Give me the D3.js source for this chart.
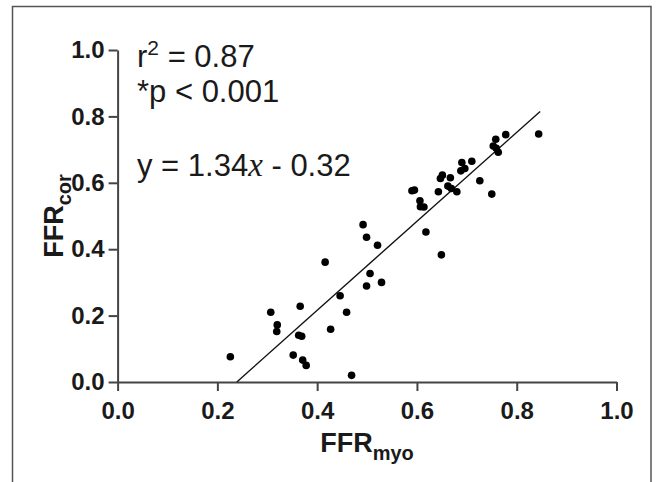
<!DOCTYPE html>
<html>
<head>
<meta charset="utf-8">
<script src="https://cdn.jsdelivr.net/npm/d3@7"></script>
<style>
  html, body { margin: 0; padding: 0; background: #fff; }
  svg { display: block; }
</style>
</head>
<body>
<svg id="chart" width="658" height="482"></svg>
<script>
// ---- Data ----
const ffrMyo = [0.492, 0.499, 0.521, 0.416, 0.506, 0.529, 0.499, 0.446, 0.307, 0.366,
                0.459, 0.320, 0.319, 0.363, 0.369, 0.427, 0.226, 0.352, 0.371, 0.378,
                0.469,
                0.844, 0.778, 0.758, 0.753, 0.759, 0.763, 0.710, 0.690, 0.696, 0.688,
                0.726, 0.750, 0.651, 0.647, 0.667, 0.662, 0.669, 0.680, 0.643, 0.590,
                0.595, 0.606, 0.607, 0.614, 0.618, 0.649];
const ffrCor = [0.474, 0.436, 0.412, 0.361, 0.327, 0.300, 0.289, 0.260, 0.210, 0.228,
                0.210, 0.172, 0.152, 0.141, 0.138, 0.159, 0.076, 0.081, 0.066, 0.050,
                0.020,
                0.747, 0.745, 0.731, 0.711, 0.704, 0.692, 0.665, 0.661, 0.643, 0.636,
                0.606, 0.566, 0.623, 0.613, 0.615, 0.590, 0.583, 0.573, 0.573, 0.576,
                0.578, 0.546, 0.528, 0.527, 0.452, 0.383];
const slope = 1.34;
const intercept = -0.32;
const fitRange = [0.239, 0.847];
const tickValues = [0, 0.2, 0.4, 0.6, 0.8, 1.0];
const tickLabels = ["0.0", "0.2", "0.4", "0.6", "0.8", "1.0"];

const svg = d3.select("#chart");

// outer frame (open at bottom)
svg.append("path")
  .attr("d", "M12.5,482 V6.5 H651 V482")
  .attr("fill", "none")
  .attr("stroke", "#555")
  .attr("stroke-width", 1.5);

const x = d3.scaleLinear().domain([0, 1]).range([117.6, 616.5]);
const y = d3.scaleLinear().domain([0, 1]).range([382, 50]);

const fmt = (d) => tickLabels[tickValues.indexOf(d)];

const xAxis = svg.append("g")
  .attr("transform", "translate(0,382)")
  .call(d3.axisBottom(x).tickValues(tickValues).tickFormat(fmt).tickSize(9).tickSizeOuter(0).tickPadding(11));
const yAxis = svg.append("g")
  .attr("transform", "translate(117.6,0)")
  .call(d3.axisLeft(y).tickValues(tickValues).tickFormat(fmt).tickSize(9).tickSizeOuter(0).tickPadding(4));

[xAxis, yAxis].forEach(g => {
  g.select(".domain").attr("stroke", "#444").attr("stroke-width", 2);
  g.selectAll(".tick line").attr("stroke", "#444").attr("stroke-width", 2);
  g.selectAll(".tick text")
    .attr("fill", "#1a1a1a")
    .style("font-family", "Liberation Sans, Arial, sans-serif")
    .style("font-weight", "bold")
    .style("font-size", "24px");
});

// regression line
svg.append("line")
  .attr("x1", x(fitRange[0])).attr("y1", y(slope * fitRange[0] + intercept))
  .attr("x2", x(fitRange[1])).attr("y2", y(slope * fitRange[1] + intercept))
  .attr("stroke", "#111").attr("stroke-width", 1.4);

// points
svg.append("g").selectAll("circle")
  .data(ffrMyo.map((v, i) => [v, ffrCor[i]]))
  .join("circle")
  .attr("cx", d => x(d[0]))
  .attr("cy", d => y(d[1]))
  .attr("r", 3.8)
  .attr("fill", "#000");

// annotations
const ann = svg.append("g")
  .style("font-family", "Liberation Sans, Arial, sans-serif")
  .style("font-size", "31px")
  .attr("fill", "#1a1a1a");

const t1 = ann.append("text").attr("x", 137).attr("y", 67);
t1.append("tspan").text("r");
t1.append("tspan").attr("dy", -12).style("font-size", "21px").text("2");
t1.append("tspan").attr("dy", 12).text(" = 0.87");

ann.append("text").attr("x", 137).attr("y", 102).text("*p < 0.001");

const t3 = ann.append("text").attr("x", 137).attr("y", 176);
t3.append("tspan").text("y = 1.34");
t3.append("tspan").style("font-family", "Liberation Serif, Times New Roman, serif")
  .style("font-style", "italic").style("font-size", "33px").text("x");
t3.append("tspan").text(" - 0.32");

// axis titles
const xt = svg.append("text")
  .attr("x", 367).attr("y", 452)
  .attr("text-anchor", "middle")
  .style("font-family", "Liberation Sans, Arial, sans-serif")
  .style("font-weight", "bold").style("font-size", "27px")
  .attr("fill", "#1a1a1a");
xt.append("tspan").text("FFR");
xt.append("tspan").attr("dy", 8).style("font-size", "20px").text("myo");

const yt = svg.append("text")
  .attr("transform", "translate(63,216) rotate(-90)")
  .attr("text-anchor", "middle")
  .style("font-family", "Liberation Sans, Arial, sans-serif")
  .style("font-weight", "bold").style("font-size", "27px")
  .attr("fill", "#1a1a1a");
yt.append("tspan").text("FFR");
yt.append("tspan").attr("dy", 8).style("font-size", "20px").text("cor");
</script>
</body>
</html>
